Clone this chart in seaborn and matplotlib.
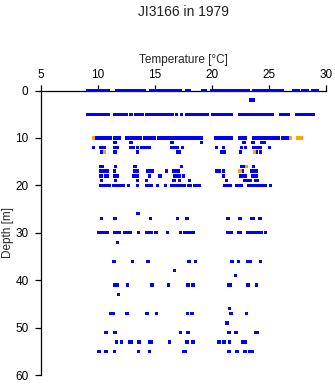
import matplotlib
matplotlib.use("Agg")
import matplotlib.pyplot as plt
import seaborn as sns
import pandas as pd

# ---- data: temperatures [°C] observed at each depth [m] ----
depths = [0, 2, 5, 10, 11, 12, 13, 16, 17, 18, 19, 20, 26, 27, 30, 32, 36, 38, 39,
          41, 43, 46, 47, 49, 51, 53, 55]

t_0 = [9.1, 9.3, 9.5, 9.7, 9.9, 10.1, 10.3, 10.5, 10.7, 10.9, 11.6,
       11.9, 12.1, 12.3, 12.5, 12.7, 12.9, 13.1, 13.3, 13.5, 13.7, 13.9, 14.1,
       14.6, 14.8, 15.0, 15.2, 15.4, 15.6, 15.8, 16.0, 16.2, 16.4, 16.6, 16.8, 17.0, 17.2,
       17.8, 18.0, 19.2, 19.4,
       20.0, 20.2, 20.4, 20.6, 20.8, 21.0, 21.2, 21.4, 21.6, 21.8, 22.0, 22.2, 22.4, 22.6,
       22.8, 23.0, 23.2,
       23.7, 23.9, 24.1, 24.3, 24.5, 24.7, 24.9, 25.1, 25.3, 25.4, 25.7, 25.9, 26.2,
       27.2, 27.4, 27.6, 28.0, 28.2, 28.4, 28.8, 29.0, 29.2]
t_2 = [23.4, 23.6]
t_5 = [9.1, 9.3, 9.5, 9.7, 9.9, 10.1, 10.3, 10.5, 10.7, 10.9,
       11.5, 11.7, 11.9, 12.1, 12.3, 12.5, 12.9, 13.3, 13.5, 13.7, 13.9, 14.3, 14.4,
       14.7, 14.9, 15.1, 15.3, 15.5, 15.7, 15.9, 16.1, 16.3, 16.5, 16.9, 17.3,
       17.8, 18.0, 18.2, 18.4, 18.6, 18.8, 19.0, 19.2, 19.4, 19.6,
       20.1, 20.3, 20.5, 20.7, 20.9, 21.1, 21.3, 21.5, 21.7,
       22.4, 22.6, 22.8, 23.0, 23.2, 23.3, 23.6, 23.8, 24.0, 24.2, 24.4, 24.6, 24.8, 25.0,
       25.3, 26.0, 26.2, 26.4, 26.6, 26.7,
       27.4, 27.6, 27.8, 28.0, 28.2, 28.4, 28.6, 28.8, 28.9]
t_10 = [9.9, 10.1, 10.3, 10.5, 10.7, 10.8, 11.05, 11.5, 11.7, 11.9,
        12.5, 12.7, 12.9, 13.0, 13.3, 13.5, 13.7, 14.1, 14.3, 14.5, 14.7, 14.9,
        15.3, 15.5, 15.7, 15.9, 16.1, 16.3, 16.4, 16.7, 16.9, 17.1, 17.3, 17.5, 17.7,
        17.9, 18.1, 18.2, 18.5, 18.7, 18.9, 19.05,
        20.3, 20.5, 20.7, 20.9, 21.1, 21.3, 21.5, 21.7, 22.4, 22.6, 22.8, 22.9,
        23.7, 23.9, 24.1, 24.3, 24.5, 24.7, 24.9, 25.0, 25.3, 25.6, 25.8, 26.2, 26.3,
        26.6, 26.7]
t_11 = [11.5, 12.9, 16.5, 19.1, 22.8, 23.6, 24.35, 24.6]
t_12 = [9.6, 10.25, 10.55, 11.45, 11.65, 12.85, 13.1, 13.45, 13.8, 14.05, 14.3, 14.5,
        16.5, 16.75, 17.0, 17.4, 20.4, 21.0, 22.6, 22.95, 23.65, 23.9, 24.2, 25.05]
t_13 = [10.3, 11.5, 13.45, 17.0, 17.15, 20.85, 21.05, 22.5, 23.9, 24.25]
t_16 = [10.2, 10.4, 11.55, 13.25, 17.35, 22.6, 22.75, 23.65]
t_17 = [10.2, 10.35, 10.65, 10.85, 11.45, 13.25, 13.45, 14.35, 14.6, 14.75, 16.0,
        16.65, 16.85, 17.05, 20.45, 20.6, 21.0, 22.65, 23.5, 23.7, 23.9]
t_18 = [10.25, 10.7, 10.85, 11.45, 11.7, 13.1, 13.3, 13.45, 14.5, 15.45, 16.7, 16.9,
        17.1, 17.5, 21.0, 22.55, 22.75, 22.9, 23.6, 23.85]
t_19 = [10.3, 11.55, 13.45, 14.25, 16.65, 17.15, 18.05, 21.25, 22.9, 23.1, 23.3,
        23.4, 23.8, 23.95]
t_20 = [10.2, 10.4, 10.6, 10.8, 11.0, 11.4, 11.6, 11.8, 12.0, 12.2, 12.7, 13.45,
        14.3, 14.5, 14.7, 15.2, 15.9, 16.5, 16.7, 17.0, 17.2, 17.4, 17.6, 18.0, 18.1,
        18.5, 18.7, 18.9, 21.1, 21.3, 21.6, 22.2, 22.4, 22.6, 23.2, 23.4, 23.6, 23.8,
        24.0, 24.2, 24.4, 24.7, 25.15]
t_26 = [13.5]
t_27 = [10.3, 11.5, 14.6, 17.0, 17.8, 21.4, 22.45, 23.45, 23.65, 24.2]
t_30 = [10.1, 10.3, 10.5, 10.8, 11.5, 11.7, 11.9, 12.3, 12.5, 12.8, 13.55, 14.3,
        14.5, 14.7, 15.1, 16.1, 17.25, 17.6, 17.8, 18.0, 18.2, 18.4, 21.4, 21.7,
        22.3, 22.5, 23.1, 23.3, 23.5, 23.7, 23.9, 24.1, 24.3, 24.7]
t_32 = [11.7]
t_36 = [11.4, 13.05, 14.4, 18.0, 18.55, 21.75, 22.3, 23.1, 23.35, 24.25]
t_38 = [16.7]
t_39 = [22.05]
t_41 = [11.5, 11.7, 12.6, 14.75, 16.2, 17.9, 18.35, 21.45, 21.6, 23.15, 23.9]
t_43 = [11.8]
t_46 = [21.55]
t_47 = [11.1, 11.3, 12.55, 14.3, 15.15, 17.85, 18.25, 21.65, 23.05]
t_49 = [21.3]
t_51 = [10.7, 11.5, 17.25, 17.9, 21.5, 22.1, 23.85, 24.0]
t_53 = [11.6, 12.05, 12.8, 12.95, 13.6, 14.55, 14.7, 16.25, 17.8, 18.35, 20.6, 21.05,
        21.55, 22.7, 22.95]
t_55 = [10.1, 10.7, 11.45, 13.55, 14.5, 17.5, 17.7, 21.5, 22.2, 22.9, 23.35, 23.55]

temps_by_depth = [t_0, t_2, t_5, t_10, t_11, t_12, t_13, t_16, t_17, t_18, t_19, t_20,
                  t_26, t_27, t_30, t_32, t_36, t_38, t_39, t_41, t_43, t_46, t_47,
                  t_49, t_51, t_53, t_55]

# flagged (orange) observations
flag_depth = [10, 10, 10, 10, 13, 13, 16, 17]
flag_temp = [9.6, 26.9, 27.5, 27.8, 10.55, 23.75, 23.05, 22.45]

title = "JI3166 in 1979"
xlabel = "Temperature [\u00b0C]"
ylabel = "Depth [m]"
xticks = [5, 10, 15, 20, 25, 30]
yticks = [0, 10, 20, 30, 40, 50, 60]

rows = []
for d, ts in zip(depths, temps_by_depth):
    for t in ts:
        rows.append({"temp": t, "depth": d, "flag": "ok"})
for d, t in zip(flag_depth, flag_temp):
    rows.append({"temp": t, "depth": d, "flag": "flag"})
df = pd.DataFrame(rows)

sns.set_style("white")
plt.rcParams["font.family"] = ["Liberation Sans", "DejaVu Sans"]

fig = plt.figure(figsize=(3.35, 3.84), dpi=100)
ax = fig.add_axes([0.1224, 0.0234, 0.8507, 0.7409])

sns.scatterplot(data=df, x="temp", y="depth", hue="flag",
                palette={"ok": "#0000FF", "flag": "#FFA500"},
                marker="s", s=6, linewidth=0, legend=False,
                ax=ax, clip_on=False, zorder=3)

ax.set_xlim(5, 30)
ax.set_ylim(60, 0)
ax.set_xticks(xticks)
ax.set_yticks(yticks)
ax.xaxis.tick_top()
ax.xaxis.set_label_position("top")
for side in ["bottom", "right"]:
    ax.spines[side].set_visible(False)
for side in ["top", "left"]:
    ax.spines[side].set_color("black")
    ax.spines[side].set_linewidth(0.9)
ax.tick_params(axis="x", top=True, bottom=False, length=4, width=0.9,
               labelsize=8.5, pad=3, colors="black")
ax.tick_params(axis="y", left=True, length=4, width=0.9, labelsize=8.5, pad=5,
               colors="black")
ax.set_xlabel(xlabel, fontsize=8.5, labelpad=4)
ax.set_ylabel(ylabel, fontsize=8.5, va="center")
ax.yaxis.set_label_coords(-0.117, 0.5)
ax.grid(False)

fig.text(0.548, 0.958, title, ha="center", va="baseline", fontsize=10,
         color="#222222")

fig.savefig("out.png", dpi=100)
